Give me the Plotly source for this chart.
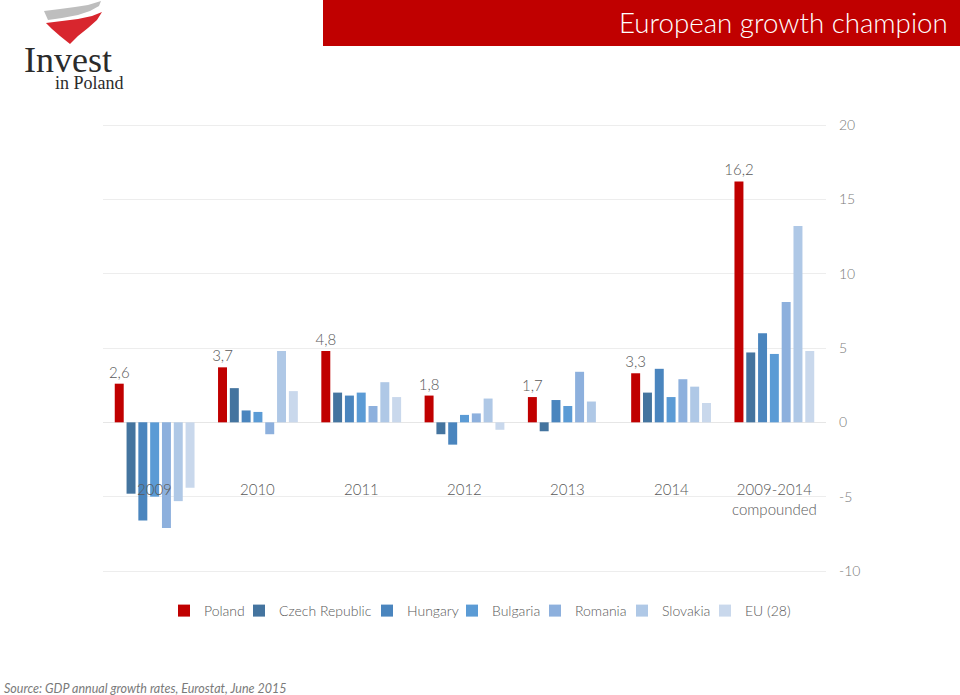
import plotly.graph_objects as go

categories = ["2009", "2010", "2011", "2012", "2013", "2014", "2009-2014<br>compounded"]
series_names = ["Poland", "Czech Republic", "Hungary", "Bulgaria", "Romania", "Slovakia", "EU (28)"]
poland = [2.6, 3.7, 4.8, 1.8, 1.7, 3.3, 16.2]
czech = [-4.8, 2.3, 2.0, -0.8, -0.6, 2.0, 4.7]
hungary = [-6.6, 0.8, 1.8, -1.5, 1.5, 3.6, 6.0]
bulgaria = [-5.0, 0.7, 2.0, 0.5, 1.1, 1.7, 4.6]
romania = [-7.1, -0.8, 1.1, 0.6, 3.4, 2.9, 8.1]
slovakia = [-5.3, 4.8, 2.7, 1.6, 1.4, 2.4, 13.2]
eu28 = [-4.4, 2.1, 1.7, -0.5, 0.0, 1.3, 4.8]
poland_labels = ["2,6", "3,7", "4,8", "1,8", "1,7", "3,3", "16,2"]
y_ticks = [-10, -5, 0, 5, 10, 15, 20]
y_tick_labels = ["-10", "-5", "0", "5", "10", "15", "20"]

colors = ["#C00000", "#44749F", "#4A85BE", "#5B9BD5", "#8DB0DD", "#AFC8E6", "#C9D8EC"]
values = [poland, czech, hungary, bulgaria, romania, slovakia, eu28]
# x (page px) where each legend entry's text starts
legend_text_x = [200, 275, 403, 488, 571, 658, 741]

W, H = 960, 695
L, R, T, B = 103, 826, 120, 576
Y_RANGE = [-10.336, 20.336]

def px(x):
    return (x - L) / (R - L)

def py(y):
    return (B - y) / (B - T)

FONT = "Lato"
GRAY = "#7A7A7A"
DARK = "#595959"

fig = go.Figure()
legend_layouts = {}
for i, (name, vals, col) in enumerate(zip(series_names, values, colors)):
    lname = "legend" if i == 0 else f"legend{i + 1}"
    kw = {}
    if i == 0:
        kw = dict(text=poland_labels, textposition="outside", constraintext="none",
                  textfont=dict(family=FONT, size=15, color=DARK, weight=300), cliponaxis=False)
    fig.add_trace(go.Bar(x=list(range(len(categories))), y=vals, name=name, legend=lname,
                         marker=dict(color=col, line=dict(width=0)), **kw))
    legend_layouts[lname] = dict(orientation="h", x=px(legend_text_x[i] - 36), xanchor="left",
                                 y=py(611), yanchor="middle", itemwidth=30,
                                 font=dict(family=FONT, size=14, color=DARK, weight=300),
                                 bgcolor="rgba(0,0,0,0)", borderwidth=0)

annotations = []
for i, c in enumerate(categories):
    annotations.append(dict(x=i, y=-3.75, xref="x", yref="y", text=c, showarrow=False,
                            yanchor="top", xanchor="center",
                            font=dict(family=FONT, size=15, color=DARK, weight=300)))

# title banner
shapes = [dict(type="rect", xref="paper", yref="paper", x0=px(323), x1=px(961), y0=py(46), y1=py(0),
               fillcolor="#C00000", line=dict(width=0), layer="above")]
annotations.append(dict(x=px(950), y=py(23), xref="paper", yref="paper", text="European growth champion",
                        showarrow=False, xanchor="right", yanchor="middle",
                        font=dict(family=FONT, size=27.7, color="white", weight=300)))

# logo swooshes
def P(pts):
    return "M " + " L ".join(f"{px(a):.5f},{py(b):.5f}" for a, b in pts) + " Z"

gray_pts = [(44, 11), (60, 9), (75, 7), (88, 5), (101, 1), (99, 6), (90, 11), (78, 15), (62, 18), (48, 20)]
red_pts = [(46, 23), (62, 21), (78, 19), (92, 16), (102, 12), (97, 20), (88, 28), (78, 36), (70, 44), (60, 36), (52, 29)]
shapes.append(dict(type="path", xref="paper", yref="paper", path=P(gray_pts),
                   fillcolor="#BEBEBE", line=dict(width=0), layer="above"))
shapes.append(dict(type="path", xref="paper", yref="paper", path=P(red_pts),
                   fillcolor="#D8262E", line=dict(width=0), layer="above"))
annotations.append(dict(x=px(68), y=py(60), xref="paper", yref="paper", text="Invest",
                        showarrow=False, xanchor="center", yanchor="middle",
                        font=dict(family="Liberation Serif", size=36, color="#2B2B2B")))
annotations.append(dict(x=px(89), y=py(83.5), xref="paper", yref="paper", text="in Poland",
                        showarrow=False, xanchor="center", yanchor="middle",
                        font=dict(family="Liberation Serif", size=18, color="#2B2B2B")))

# source
annotations.append(dict(x=px(2), y=py(688), xref="paper", yref="paper",
                        text="<i>Source: GDP annual growth rates, Eurostat, June 2015</i>",
                        showarrow=False, xanchor="left", yanchor="middle",
                        font=dict(family=FONT, size=12.5, color=GRAY)))

fig.update_layout(
    width=W, height=H,
    margin=dict(l=L, r=W - R, t=T, b=H - B, pad=0),
    paper_bgcolor="white", plot_bgcolor="white",
    barmode="group", bargap=0.2, bargroupgap=0.24,
    showlegend=True,
    xaxis=dict(range=[-0.5, len(categories) - 0.5], showticklabels=False, showgrid=False,
               zeroline=False, showline=False, ticks=""),
    yaxis=dict(range=Y_RANGE, tickvals=y_ticks, ticktext=y_tick_labels, side="right",
               showgrid=True, gridcolor="#EDEDED",
               gridwidth=1, zeroline=True, zerolinecolor="#E6E6E6", zerolinewidth=1, showline=False,
               ticks="", ticklabelstandoff=12,
               tickfont=dict(family=FONT, size=14, color=GRAY, weight=300)),
    annotations=annotations,
    shapes=shapes,
    font=dict(family=FONT),
    **legend_layouts,
)

fig.write_html("out.html", post_script="document.body.style.margin='0';",
               config={"displayModeBar": False})
